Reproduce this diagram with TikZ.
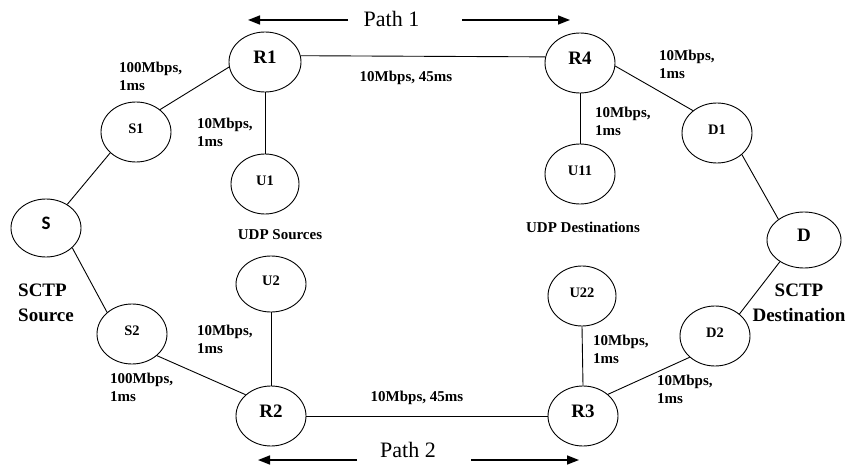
\documentclass[tikz,border=0pt]{standalone}
\usepackage{fontspec}
\setmainfont{Liberation Serif}
\newfontfamily\carlito{Carlito}
\usetikzlibrary{shapes.geometric,arrows.meta}
\begin{document}
\begin{tikzpicture}[x=1pt,y=-1pt,
  nd/.style={draw, ellipse, line width=0.9pt, minimum width=70pt, minimum height=60pt,
    inner sep=0pt, font=\bfseries\fontsize{14.5}{16}\selectfont, text depth=7pt},
  router/.style={nd, font=\bfseries\fontsize{19}{21}\selectfont, text depth=9pt},
  link/.style={line width=0.9pt},
  lbl/.style={font=\bfseries\fontsize{15}{18}\selectfont, align=left, inner sep=0pt, anchor=north west},
  lblc/.style={font=\bfseries\fontsize{15}{18}\selectfont, inner sep=0pt},
  role/.style={font=\bfseries\fontsize{19}{25}\selectfont, inner sep=0pt, anchor=north},
  pathlbl/.style={font=\fontsize{22}{24}\selectfont, inner sep=0pt, anchor=base},
  parrow/.style={line width=1.6pt, -{Triangle[length=12pt,width=9pt]}}]
\useasboundingbox (0,0) rectangle (846,468);

% hosts and routers
\node[nd, font=\carlito\bfseries\fontsize{19}{21}\selectfont, text depth=9pt,
      minimum height=58pt] (S) at (46,228) {S};
\node[nd] (S1) at (136,132) {S1};
\node[nd] (S2) at (132,334) {S2};
\node[router, minimum width=72pt] (R1) at (265,62) {R1};
\node[router] (R4) at (580,63) {R4};
\node[router] (R2) at (271,416) {R2};
\node[router] (R3) at (583,416) {R3};
\node[nd, minimum width=68pt] (U1) at (265,184) {U1};
\node[nd] (U11) at (580,174) {U11};
\node[nd, minimum height=56pt] (U2) at (271,284) {U2};
\node[nd, minimum width=68pt] (U22) at (582,296) {U22};
\node[nd] (D1) at (717,133) {D1};
\node[nd] (D2) at (715,336) {D2};
\node[router, minimum width=74pt, minimum height=56pt] (D) at (804,240) {D};

% links
\draw[link] (S.48) -- (S1.219);
\draw[link] (S1.43) -- (R1.188);
\draw[link] (R1.south) -- (U1.north);
\draw[link] (R1.10) -- (R4.170);
\draw[link] (R4.south) -- (U11.north);
\draw[link] (R4.-5) -- (D1.137);
\draw[link] (D1.-41) -- (D.141);
\draw[link] (S.-37) -- (S2.139);
\draw[link] (S2.-41) -- (R2.140);
\draw[link] (U2.south) -- (R2.north);
\draw[link] (R2.east) -- (R3.west);
\draw[link] (U22.south) -- (R3.north);
\draw[link] (R3.41) -- (D2.220);
\draw[link] (D2.42) -- (D.222);

% link labels
\node[lbl] (l1) at (119,62) {100Mbps,\\1ms};
\node[lbl] (l2) at (197,118) {10Mbps,\\1ms};
\node[lblc] (l3) at (406,78) {10Mbps, 45ms};
\node[lbl] (l4) at (659,50) {10Mbps,\\1ms};
\node[lbl] (l5) at (595,107) {10Mbps,\\1ms};
\node[lbl] (l6) at (197,325) {10Mbps,\\1ms};
\node[lbl] (l7) at (110,373) {100Mbps,\\1ms};
\node[lblc] (l8) at (417,398) {10Mbps, 45ms};
\node[lbl] (l9) at (593,335) {10Mbps,\\1ms};
\node[lbl] (l10) at (657,375) {10Mbps,\\1ms};

% group captions
\node[lblc] (usrc) at (280,235) {UDP Sources};
\node[lblc] (udst) at (583,227) {UDP Destinations};
\node[role, anchor=north west, align=left] (ssrc) at (18,284) {SCTP\\Source};
\node[role, align=center] (sdst) at (799,284) {SCTP\\Destination};

% path markers
\node[pathlbl] (p1) at (391.5,27) {Path 1};
\coordinate (p1a) at (348,20);
\coordinate (p1l) at (248,20);
\coordinate (p1b) at (462,20);
\coordinate (p1r) at (570,20);
\draw[parrow] (p1a) -- (p1l);
\draw[parrow] (p1b) -- (p1r);

\node[pathlbl] (p2) at (408,457) {Path 2};
\coordinate (p2a) at (357,460);
\coordinate (p2l) at (258,460);
\coordinate (p2b) at (471,460);
\coordinate (p2r) at (579,460);
\draw[parrow] (p2a) -- (p2l);
\draw[parrow] (p2b) -- (p2r);
\end{tikzpicture}
\end{document}
